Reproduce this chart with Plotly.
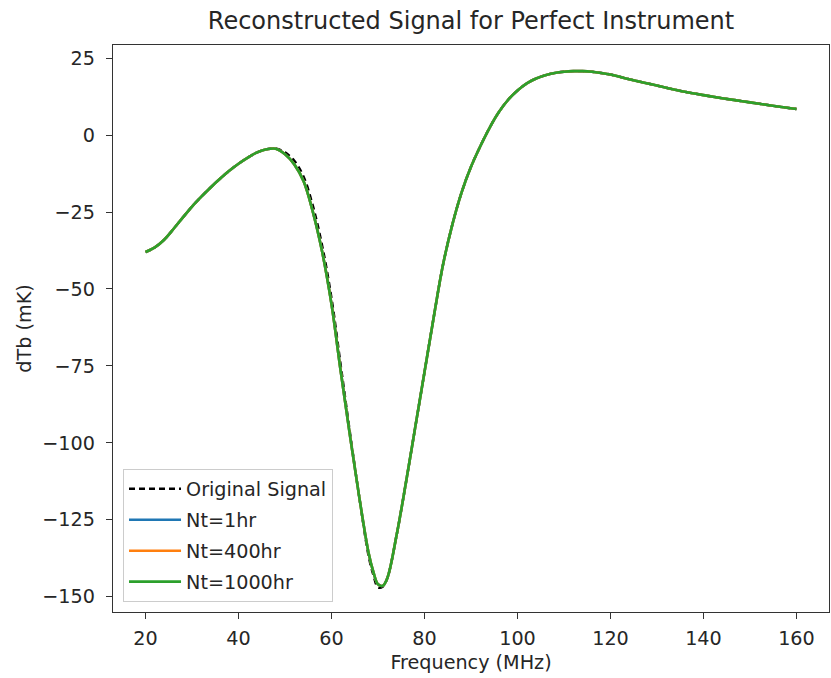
import plotly.graph_objects as go

# Frequency (MHz)
freq = [20, 22, 24, 26, 28, 30, 32, 34, 36, 38, 40, 42, 44, 46, 48, 50, 52, 54, 56, 58,
        60, 62, 64, 66, 68, 69, 70, 71, 72, 74, 76, 78, 80, 82, 84, 86, 88, 90, 92, 94,
        96, 98, 100, 102, 104, 106, 108, 110, 112, 114, 116, 118, 120, 124, 128, 132,
        136, 140, 144, 148, 152, 156, 160]

# Original signal dTb (mK)
original = [-38, -36.5, -34, -30.5, -26.8, -23.2, -20, -17, -14.2, -11.6, -9.3, -7.3, -5.6, -4.6,
            -4.3, -5.6, -8.3, -13.5, -23, -36, -53, -75, -97, -118, -137, -143, -147, -146.8,
            -144, -130, -113, -95, -77, -59, -42, -29, -18.5, -10.3, -3.6, 2.4,
            7.5, 11.5, 14.5, 16.8, 18.4, 19.5, 20.2, 20.6, 20.8, 20.8, 20.6, 20.2, 19.7, 18.2,
            16.8, 15.4, 14.1, 13, 12, 11.1, 10.2, 9.3, 8.5]

# Reconstructed signals dTb (mK)
nt_1hr = [-38, -36.5, -34, -30.5, -26.8, -23.2, -20, -17, -14.2, -11.6, -9.3, -7.3, -5.6, -4.6,
          -4.4, -6.2, -9.5, -15, -25, -38, -55, -77, -98, -118, -136, -142, -146, -146.5,
          -144, -130, -113, -95, -77, -59, -42, -29, -18.5, -10.3, -3.6, 2.4,
          7.5, 11.5, 14.5, 16.8, 18.4, 19.5, 20.2, 20.6, 20.8, 20.8, 20.6, 20.2, 19.7, 18.2,
          16.8, 15.4, 14.1, 13, 12, 11.1, 10.2, 9.3, 8.5]
nt_400hr = list(nt_1hr)
nt_1000hr = list(nt_1hr)

x_ticks = [20, 40, 60, 80, 100, 120, 140, 160]
y_ticks = [-150, -125, -100, -75, -50, -25, 0, 25]

font_family = "DejaVu Sans"
text_color = "#262626"
fs = 19.2

fig = go.Figure()
fig.add_trace(go.Scatter(x=freq, y=original, mode="lines", name="Original Signal",
                         line=dict(color="black", width=2.4, dash="6px,4px", shape="spline"),
                         legendgroup="a"))
fig.add_trace(go.Scatter(x=freq, y=nt_1hr, mode="lines", name="Nt=1hr",
                         line=dict(color="#1f77b4", width=2.6, shape="spline"),
                         legendgroup="b"))
fig.add_trace(go.Scatter(x=freq, y=nt_400hr, mode="lines", name="Nt=400hr",
                         line=dict(color="#ff7f0e", width=2.6, shape="spline"),
                         legendgroup="c"))
fig.add_trace(go.Scatter(x=freq, y=nt_1000hr, mode="lines", name="Nt=1000hr",
                         line=dict(color="#2ca02c", width=2.6, shape="spline"),
                         legendgroup="d"))

fig.update_layout(
    width=831, height=678,
    margin=dict(l=113, r=2, t=45, b=66),
    paper_bgcolor="white", plot_bgcolor="white",
    font=dict(family=font_family, size=fs, color=text_color),
    title=dict(text="Reconstructed Signal for Perfect Instrument",
               x=471 / 831, xanchor="center", y=1 - 21 / 678, yanchor="middle",
               font=dict(size=24, color=text_color)),
    showlegend=True,
    legend=dict(x=0.014, y=0.018, xanchor="left", yanchor="bottom",
                bgcolor="rgba(255,255,255,0.8)", bordercolor="#cccccc", borderwidth=1,
                font=dict(size=fs, color=text_color), traceorder="grouped",
                tracegroupgap=3, itemwidth=52),
)

fig.update_xaxes(range=[13, 167], tickvals=x_ticks, ticks="outside", ticklen=6,
                 tickwidth=1.2, tickcolor="#333333", showline=True, linecolor="#333333",
                 linewidth=1.3, mirror=True, showgrid=False, zeroline=False,
                 tickfont=dict(size=fs, color=text_color), ticklabelstandoff=3,
                 title=dict(text="Frequency (MHz)", standoff=6,
                            font=dict(size=fs, color=text_color)))
fig.update_yaxes(range=[-155, 29.3], tickvals=y_ticks, ticks="outside", ticklen=6,
                 tickwidth=1.2, tickcolor="#333333", showline=True, linecolor="#333333",
                 linewidth=1.3, mirror=True, showgrid=False, zeroline=False,
                 tickfont=dict(size=fs, color=text_color), ticklabelstandoff=7,
                 title=dict(text="dTb (mK)", standoff=5,
                            font=dict(size=fs, color=text_color)))

fig.write_html("out.html")
